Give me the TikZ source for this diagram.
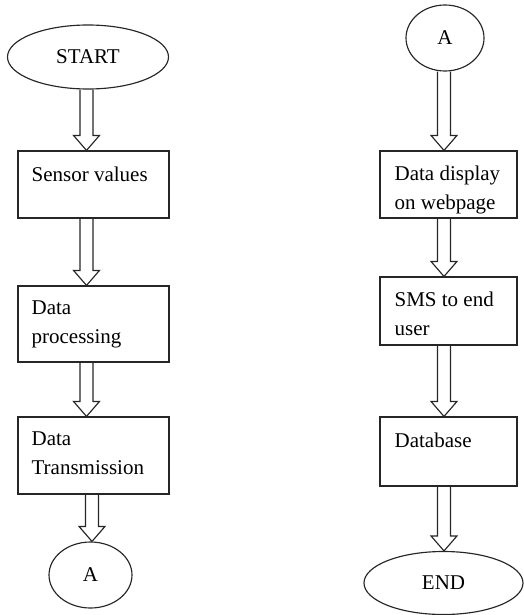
\documentclass[tikz,border=0pt]{standalone}
\usepackage{fontspec}
\setmainfont{Liberation Serif}
\usetikzlibrary{shapes.geometric,calc}
\newcommand\blockarrow[2]{%
  \draw[arr] let \p1=(#1), \p2=(#2) in
    (\x1-6.5pt,\y1) -- (\x1-6.5pt,\y2+15pt) -- (\x1-13pt,\y2+15pt) -- (\x1,\y2)
    -- (\x1+13pt,\y2+15pt) -- (\x1+6.5pt,\y2+15pt) -- (\x1+6.5pt,\y1);}
\begin{document}
\begin{tikzpicture}[x=1pt,y=-1pt,
  every node/.style={font=\fontsize{21}{29}\selectfont},
  ln/.style={draw=black!85,line width=1.15pt},
  oval/.style={ln,ellipse,inner sep=0pt},
  box/.style={ln,rectangle,inner sep=0pt,minimum width=151pt},
  rbox/.style={box,minimum width=137pt},
  txt/.style={anchor=north west,inner sep=0pt,align=left},
  arr/.style={ln,line join=miter}
]
\useasboundingbox (0,0) rectangle (524,615);
% left column
\node[oval,minimum width=161pt,minimum height=64pt] (start) at (88,57) {START};
\node[box,minimum height=67pt] (sv) at (93.5,184.5) {};
\node[box,minimum height=76pt] (dp) at (93.5,324) {};
\node[box,minimum height=77pt] (dt) at (93.5,455.5) {};
\node[oval,minimum width=83pt,minimum height=66pt] (a1) at (90.5,575) {A};
\node[txt] (svt) at ([shift={(14pt,-16pt)}]sv.north west) {Sensor values};
\node[txt] (dpt) at ([shift={(14pt,-15pt)}]dp.north west) {Data\\processing};
\node[txt] (dtt) at ([shift={(14pt,-15pt)}]dt.north west) {Data\\Transmission};
% right column
\node[oval,minimum width=78pt,minimum height=66pt] (a2) at (445,38) {A};
\node[rbox,minimum height=67pt] (dd) at (448.5,184.5) {};
\node[rbox,minimum height=68pt] (sms) at (448.5,311) {};
\node[rbox,minimum height=69pt] (db) at (448.5,451.5) {};
\node[oval,minimum width=159pt,minimum height=63pt] (end) at (443.5,583) {END};
\node[txt] (ddt) at ([shift={(15pt,-15pt)}]dd.north west) {Data display\\on webpage};
\node[txt] (smst) at ([shift={(15pt,-15pt)}]sms.north west) {SMS to end\\user};
\node[txt] (dbt) at ([shift={(15pt,-16pt)}]db.north west) {Database};
% arrows
\blockarrow{[xshift=-1.5pt]start.south}{sv.north}
\blockarrow{[xshift=-7pt]sv.south}{dp.north}
\blockarrow{[xshift=-7pt]dp.south}{dt.north}
\blockarrow{[xshift=-1.5pt]dt.south}{a1.north}
\blockarrow{[xshift=-1pt]a2.south}{dd.north}
\blockarrow{[xshift=-4.5pt]dd.south}{sms.north}
\blockarrow{[xshift=-4.5pt]sms.south}{db.north}
\blockarrow{[xshift=-4.5pt]db.south}{end.north}
\end{tikzpicture}
\end{document}
